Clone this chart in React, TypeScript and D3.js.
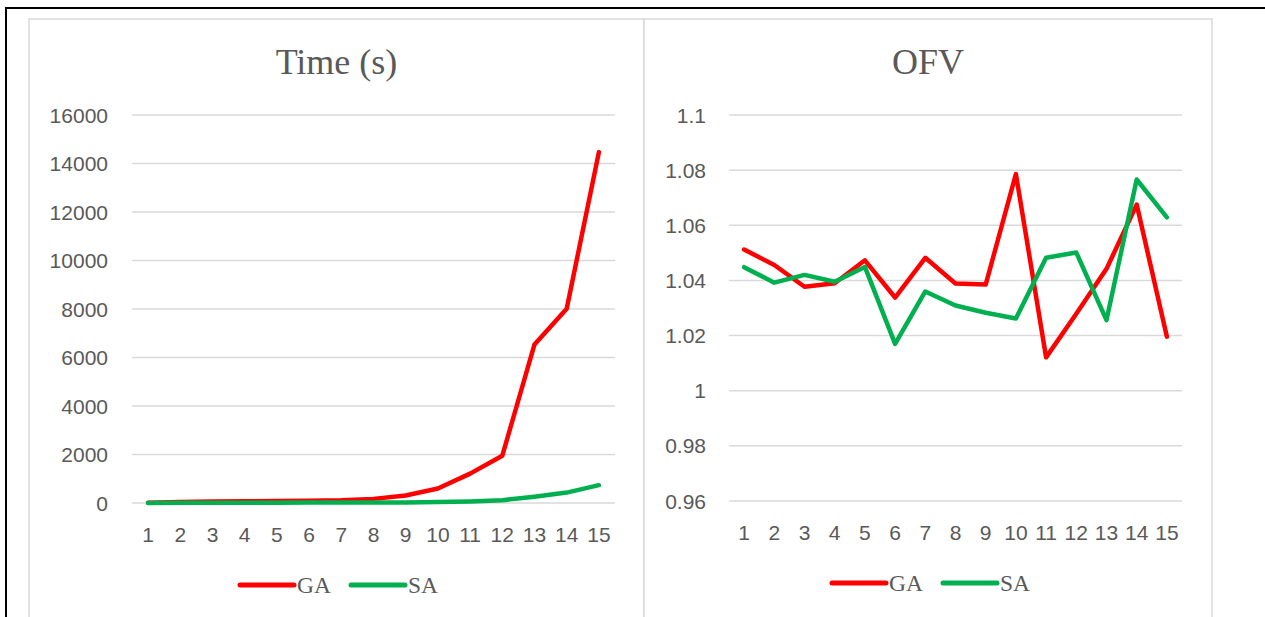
import * as d3 from "d3";

// data
const categories = ["1", "2", "3", "4", "5", "6", "7", "8", "9", "10", "11", "12", "13", "14", "15"];
const timeGA = [15, 40, 60, 70, 80, 90, 110, 170, 310, 600, 1210, 1950, 6540, 8010, 14470];
const timeSA = [5, 8, 10, 12, 14, 16, 18, 20, 25, 40, 65, 115, 260, 430, 735];
const ofvGA = [1.0512, 1.0456, 1.0377, 1.039, 1.0473, 1.0338, 1.0482, 1.0389, 1.0385, 1.0786, 1.0121, 1.0279, 1.0442, 1.0675, 1.0196];
const ofvSA = [1.0448, 1.0392, 1.042, 1.0395, 1.0449, 1.017, 1.036, 1.0309, 1.0283, 1.0262, 1.0482, 1.0501, 1.0256, 1.0766, 1.0629];
const timeTicks = [0, 2000, 4000, 6000, 8000, 10000, 12000, 14000, 16000];
const ofvTicks = [0.96, 0.98, 1, 1.02, 1.04, 1.06, 1.08, 1.1];
const seriesNames = ["GA", "SA"];
const seriesColors = ["#ff0000", "#00b050"];

const W = 1265;
const H = 617;
const sans = "'Liberation Sans', Arial, sans-serif";
const serif = "'Liberation Serif', 'Times New Roman', serif";
const textColor = "#595959";
const gridColor = "#d9d9d9";

interface PanelProps {
  title: string;
  x0: number; // panel left
  x1: number; // panel right
  plotLeft: number;
  plotRight: number;
  yTop: number;
  yBottom: number;
  labelRight: number;
  xLabelY: number;
  ticks: number[];
  series: number[][];
  legendX: number;
}

function LinePanel(p: Readonly<PanelProps>) {
  const xScale = d3.scaleBand<string>().domain(categories).range([p.plotLeft, p.plotRight]);
  const cx = (c: string) => (xScale(c) ?? 0) + xScale.bandwidth() / 2;
  const yScale = d3
    .scaleLinear()
    .domain([p.ticks[0], p.ticks[p.ticks.length - 1]])
    .range([p.yBottom, p.yTop]);

  const line = d3
    .line<number>()
    .x((_, i) => cx(categories[i]))
    .y((d) => yScale(d));

  const center = (p.x0 + p.x1) / 2;

  return (
    <g>
      <text x={center} y={74} textAnchor="middle" fontFamily={serif} fontSize={36} fill={textColor}>
        {p.title}
      </text>

      {/* grilla y etiquetas Y */}
      {p.ticks.map((t) => (
        <g key={t}>
          <line x1={p.plotLeft} x2={p.plotRight} y1={yScale(t)} y2={yScale(t)} stroke={gridColor} strokeWidth={1.5} />
          <text
            x={p.labelRight}
            y={yScale(t) + 7.5}
            textAnchor="end"
            fontFamily={sans}
            fontSize={21}
            fill={textColor}
          >
            {String(t)}
          </text>
        </g>
      ))}

      {/* etiquetas X */}
      {categories.map((c) => (
        <text key={c} x={cx(c)} y={p.xLabelY} textAnchor="middle" fontFamily={sans} fontSize={21} fill={textColor}>
          {c}
        </text>
      ))}

      {/* series */}
      {p.series.map((s, i) => (
        <path
          key={seriesNames[i]}
          d={line(s) || ""}
          fill="none"
          stroke={seriesColors[i]}
          strokeWidth={4.5}
          strokeLinejoin="round"
          strokeLinecap="round"
        />
      ))}

      {/* leyenda */}
      {seriesNames.map((name, i) => {
        const lx = p.legendX + i * 111;
        return (
          <g key={name}>
            <line x1={lx} x2={lx + 54} y1={p.yBottom + 82} y2={p.yBottom + 82} stroke={seriesColors[i]} strokeWidth={5} strokeLinecap="round" />
            <text x={lx + 57} y={p.yBottom + 90} fontFamily={serif} fontSize={23.5} fill={textColor}>
              {name}
            </text>
          </g>
        );
      })}
    </g>
  );
}

export default function App() {
  return (
    <svg width={W} height={H} style={{ position: "absolute", left: 0, top: 0, background: "#fff" }}>
      {/* marco exterior */}
      <line x1={6} x2={W} y1={8} y2={8} stroke="#000" strokeWidth={2} />
      <line x1={6} x2={6} y1={7} y2={H} stroke="#000" strokeWidth={2} />

      {/* paneles */}
      <rect x={29} y={19} width={615} height={H} fill="#fff" stroke={gridColor} strokeWidth={1.5} />
      <rect x={644} y={19} width={568} height={H} fill="#fff" stroke={gridColor} strokeWidth={1.5} />

      <LinePanel
        title="Time (s)"
        x0={29}
        x1={644}
        plotLeft={132}
        plotRight={615}
        yTop={115}
        yBottom={503}
        labelRight={108}
        xLabelY={542}
        ticks={timeTicks}
        series={[timeGA, timeSA]}
        legendX={240}
      />
      <LinePanel
        title="OFV"
        x0={644}
        x1={1212}
        plotLeft={729}
        plotRight={1182}
        yTop={115}
        yBottom={501}
        labelRight={706}
        xLabelY={540}
        ticks={ofvTicks}
        series={[ofvGA, ofvSA]}
        legendX={832}
      />
    </svg>
  );
}
